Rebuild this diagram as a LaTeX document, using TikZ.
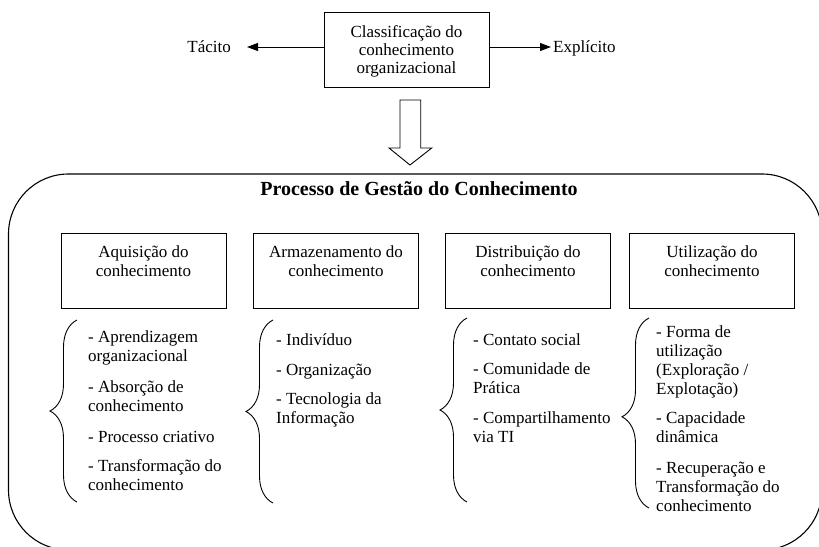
\documentclass[tikz,border=0pt]{standalone}
\usepackage{fontspec}
\setmainfont{Liberation Serif}
\usetikzlibrary{arrows.meta,decorations.pathreplacing}
\tikzset{
  boxnode/.style={draw, line width=0.9pt, minimum width=165pt, minimum height=75pt, inner sep=0pt},
  boxtxt/.style={align=center, inner sep=0pt, font=\fontsize{17}{19}\selectfont},
  itemtxt/.style={align=left, inner sep=0pt, anchor=base west, font=\fontsize{17}{19}\selectfont},
  curly/.style={decorate, decoration={brace, amplitude=27pt}, line width=0.9pt},
  sidearrow/.style={line width=0.9pt, -{Triangle[length=11pt,width=8pt]}},
}
\begin{document}
\begin{tikzpicture}[x=1pt,y=-1pt]
\useasboundingbox (0,0) rectangle (819,546);
\fill[white] (0,0) rectangle (819,546);

% top classification box
\node[boxnode] (top) at (406.5,49.5) {};
\node[boxtxt, anchor=base] (toptxt) at (406.5,73) {Classificação do\\[-1pt]conhecimento\\[-1pt]organizacional};
\node[itemtxt, anchor=base east] (tacito) at (231,52) {Tácito};
\node[itemtxt] (explicito) at (553,52) {Explícito};
\draw[sidearrow] ([yshift=2.5pt]top.west) -- ([yshift=2.5pt]top.west -| 247,0);
\draw[sidearrow] ([yshift=2.5pt]top.east) -- ([yshift=2.5pt]top.east -| 551,0);

% hollow arrow
\draw[line width=0.9pt, line join=miter] (400,100) -- (420.7,100) -- (420.7,148) -- (431.7,148) -- (410,165) -- (389,148) -- (400,148) -- cycle;

% big rounded frame
\draw[line width=1.1pt, rounded corners=60pt] (8.5,174) rectangle (822,550);
\node[inner sep=0pt, anchor=base, font=\fontsize{20}{24}\selectfont\bfseries] (title) at (419,195) {Processo de Gestão do Conhecimento};

% four boxes
\node[boxnode] (b1) at (143.5,270.5) {};
\node[boxnode] (b2) at (336,270.5) {};
\node[boxnode] (b3) at (528,270.5) {};
\node[boxnode] (b4) at (712,270.5) {};
\node[boxtxt, anchor=base] (t1) at (143.5,276) {Aquisição do\\conhecimento};
\node[boxtxt, anchor=base] (t2) at (336,276) {Armazenamento do\\conhecimento};
\node[boxtxt, anchor=base] (t3) at (528,276) {Distribuição do\\conhecimento};
\node[boxtxt, anchor=base] (t4) at (712,276) {Utilização do\\conhecimento};

% braces
\coordinate (c1a) at (77,502); \coordinate (c1b) at (77,320);
\coordinate (c2a) at (273,503); \coordinate (c2b) at (273,320);
\coordinate (c3a) at (467,502); \coordinate (c3b) at (467,318);
\coordinate (c4a) at (649,508); \coordinate (c4b) at (649,318);
\draw[curly] (c1a) -- (c1b);
\draw[curly] (c2a) -- (c2b);
\draw[curly] (c3a) -- (c3b);
\draw[curly, decoration={aspect=0.48}] (c4a) -- (c4b);

% column 1 (anchor = baseline of last line)
\node[itemtxt] (i11) at (88,361) {- Aprendizagem\\organizacional};
\node[itemtxt] (i12) at (88,411) {- Absorção de\\conhecimento};
\node[itemtxt] (i13) at (88,442) {- Processo criativo};
\node[itemtxt] (i14) at (88,490) {- Transformação do\\conhecimento};
% column 2
\node[itemtxt] (i21) at (276,345) {- Indivíduo};
\node[itemtxt] (i22) at (276,375) {- Organização};
\node[itemtxt] (i23) at (276,423) {- Tecnologia da\\Informação};
% column 3
\node[itemtxt] (i31) at (473,345) {- Contato social};
\node[itemtxt] (i32) at (473,393) {- Comunidade de\\Prática};
\node[itemtxt] (i33) at (473,442) {- Compartilhamento\\via TI};
% column 4
\node[itemtxt] (i41) at (656,394) {- Forma de\\utilização\\(Exploração /\\Explotação)};
\node[itemtxt] (i42) at (656,442) {- Capacidade\\dinâmica};
\node[itemtxt] (i43) at (656,511) {- Recuperação e\\Transformação do\\conhecimento};
\end{tikzpicture}
\end{document}
